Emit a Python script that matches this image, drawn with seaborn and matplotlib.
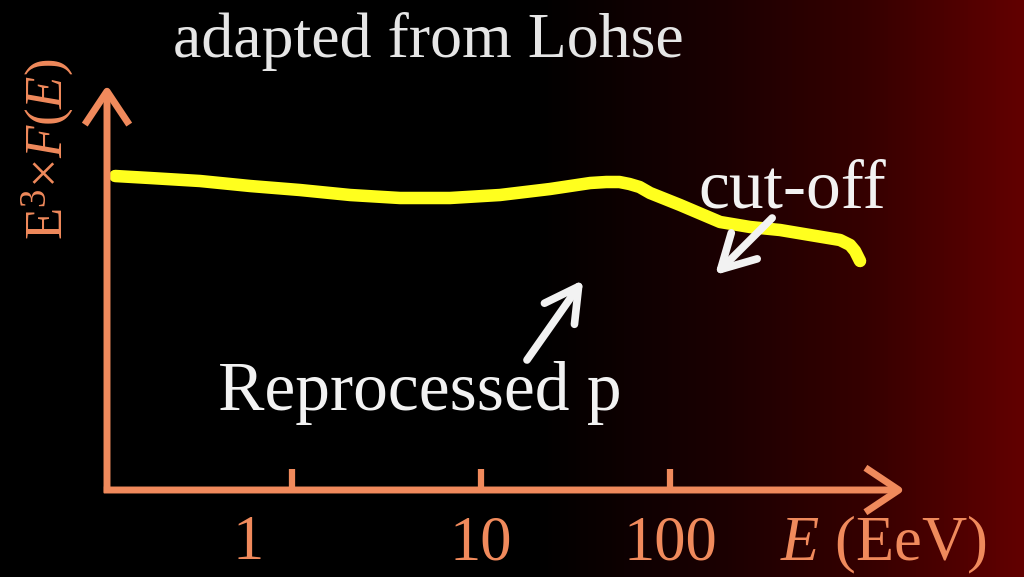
import numpy as np
import matplotlib
matplotlib.use("Agg")
import matplotlib.pyplot as plt
from matplotlib.colors import LinearSegmentedColormap
from matplotlib.transforms import ScaledTranslation
import seaborn as sns

# Energy spectrum of reprocessed protons (E^3-weighted flux, arbitrary units)
energy_eev = [0.116, 0.177, 0.326, 0.600, 1.10, 2.03, 3.73, 6.85, 12.6, 23.2,
              37.8, 46.0, 54.0, 61.0, 69.0, 78.4, 113, 184, 265, 382, 550,
              793, 896, 952, 1012]
e3_flux = [3.14, 3.12, 3.09, 3.04, 3.00, 2.95, 2.92, 2.92, 2.95, 3.01,
           3.07, 3.08, 3.08, 3.06, 3.03, 2.97, 2.85, 2.68, 2.63, 2.60, 2.55,
           2.50, 2.45, 2.39, 2.29]

tick_values = [1, 10, 100]
tick_labels = ["1", "10", "100"]

sns.set_theme(style="dark")
plt.rcParams["font.family"] = ["Liberation Serif", "DejaVu Serif"]
plt.rcParams["mathtext.fontset"] = "custom"
plt.rcParams["mathtext.rm"] = "Liberation Serif"
plt.rcParams["mathtext.it"] = "Liberation Serif:italic"

ORANGE = "#F08A5C"
YELLOW = "#FFFF1E"
WHITE = "#F2F2F2"

W, H = 1024, 577
fig = plt.figure(figsize=(W / 100, H / 100), dpi=100, facecolor="black")

# Background: black on the left fading into dark red on the right
bg = fig.add_axes([0, 0, 1, 1], zorder=0)
cmap = LinearSegmentedColormap.from_list(
    "slide", [(0.0, "#000000"), (0.52, "#000000"), (0.7, "#1a0002"),
              (0.85, "#360000"), (1.0, "#620000")])
bg.imshow(np.linspace(0, 1, 512)[None, :], cmap=cmap, aspect="auto",
          extent=[0, 1, 0, 1])
bg.set_axis_off()

# Plot area
left, right = 107 / W, 905 / W
bottom, top = 1 - 490 / H, 1 - 85 / H
ax = fig.add_axes([left, bottom, right - left, top - bottom], zorder=1)
ax.set_facecolor("none")
ax.set_xscale("log")
ax.set_xlim(0.105, 1750)
ax.set_ylim(0, 4.05)
for s in ax.spines.values():
    s.set_visible(False)
ax.grid(False)

sns.lineplot(x=energy_eev, y=e3_flux, ax=ax, color=YELLOW, linewidth=9,
             solid_joinstyle="round", solid_capstyle="round", zorder=3)

# Axis arrows
axis_arrow = dict(arrowstyle="->,head_length=0.6,head_width=0.4",
                  color=ORANGE, lw=5, mutation_scale=40,
                  shrinkA=0, shrinkB=0, capstyle="butt")
ax.annotate("", xy=(1, 0), xytext=(-0.004, 0), xycoords="axes fraction",
            arrowprops=axis_arrow, zorder=4)
ax.annotate("", xy=(0, 1), xytext=(0, -0.007), xycoords="axes fraction",
            arrowprops=axis_arrow, zorder=4)

# Ticks
ax.set_xticks(tick_values)
ax.set_xticklabels(tick_labels)
ax.xaxis.set_minor_locator(matplotlib.ticker.NullLocator())
ax.set_yticks([])
ax.tick_params(axis="x", direction="in", length=15, width=4.5, color=ORANGE,
               labelcolor=ORANGE, labelsize=45, pad=18, bottom=True)
first = ax.get_xticklabels()[0]
first.set_transform(first.get_transform() + ScaledTranslation(-44 / 100, 0, fig.dpi_scale_trans))

# Axis labels
ax.set_ylabel(r"$\mathrm{E}^{3}$×$F$($E$)", color=ORANGE, fontsize=38,
              va="center", ha="center")
ax.yaxis.set_label_coords(-0.075, 0.84)
fig.text(780 / W, 1 - 560 / H, r"$E$ (EeV)", color=ORANGE, fontsize=45,
         ha="left", va="baseline")

# Annotations
fig.text(428 / W, 1 - 57 / H, "adapted from Lohse", color="#E6E6E6",
         fontsize=46, ha="center", va="baseline")
ax.text(442, 2.83, "cut-off", color=WHITE, fontsize=50, ha="center",
        va="baseline", zorder=5)
ax.text(4.76, 0.80, "Reprocessed p", color=WHITE, fontsize=50, ha="center",
        va="baseline", zorder=5)

white_arrow = dict(arrowstyle="->,head_length=0.6,head_width=0.33",
                   color=WHITE, lw=5.5, mutation_scale=40,
                   shrinkA=0, shrinkB=0)
ax.annotate("", xy=(34.7, 2.10), xytext=(17.5, 1.30), arrowprops=white_arrow,
            zorder=5)
ax.annotate("", xy=(173, 2.15), xytext=(347, 2.72), arrowprops=white_arrow,
            zorder=5)

fig.savefig("out.png", dpi=100, facecolor="black")
